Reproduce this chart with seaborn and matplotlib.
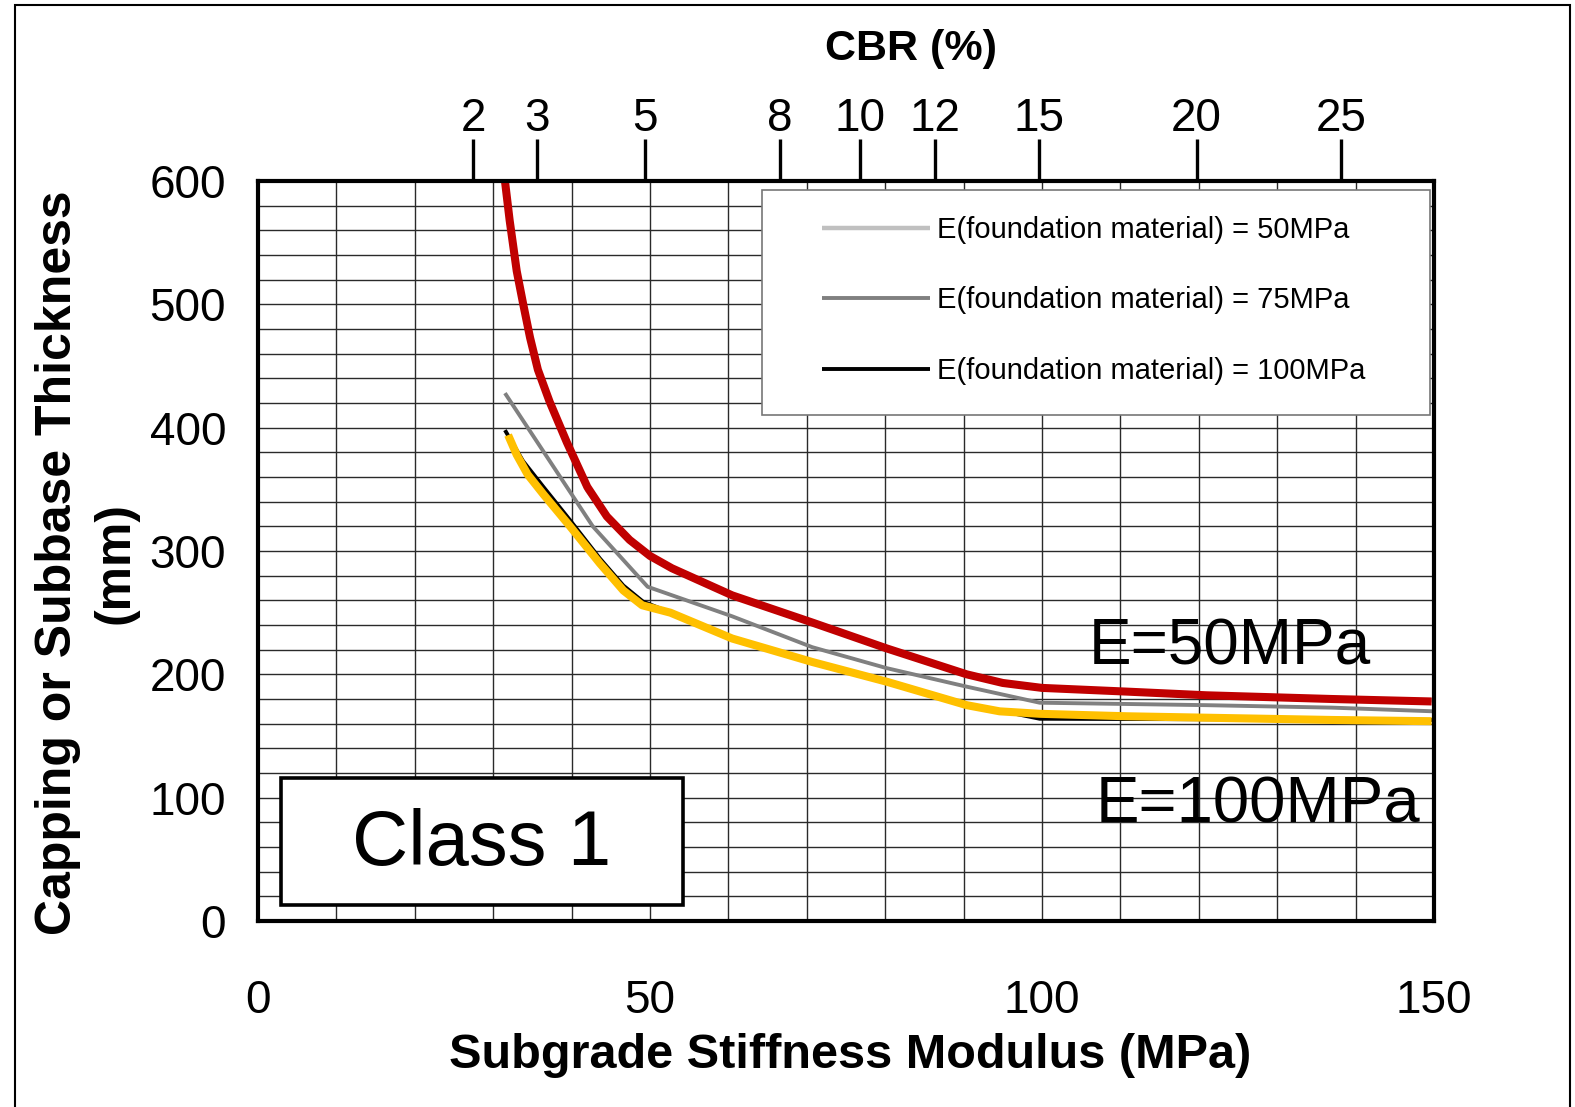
import numpy as np
import pandas as pd
import matplotlib
matplotlib.use("Agg")
import matplotlib.pyplot as plt
from matplotlib.patches import Rectangle
import seaborn as sns

# ---------------- data ----------------
E_50 = [31.5, 32.1, 33.0, 33.8, 34.7, 35.7, 37.2, 39.4, 42.0, 44.5, 47.4, 50.0, 52.8, 60.5, 70.7,
        80.2, 90.4, 95.0, 100.0, 110.8, 121.0, 137.0, 150.0]
T_50 = [600, 568, 527, 501, 473, 447, 421, 388, 349, 328, 309, 295, 285, 264, 242,
        221, 199, 193, 189, 186, 183, 180, 179]

E_75 = [31.5, 42.7, 49.7, 60.5, 70.7, 80.2, 90.4, 99.7, 121.0, 137.0, 150.0]
T_75 = [428, 320, 271, 247, 222, 205, 190, 177, 175, 173, 170]

E_100 = [31.5, 33.8, 36.4, 39.8, 43.6, 46.6, 49.1, 60.5, 70.7, 80.2, 90.4, 99.7, 150.0]
T_100 = [398, 373, 352, 325, 294, 272, 259, 230, 210, 195, 176, 164, 163]

E_red = [31.5, 32.1, 33.0, 33.8, 34.7, 35.7, 37.2, 39.4, 42.0, 44.5, 47.4, 50.0, 52.8, 60.5, 70.7,
         80.2, 90.4, 95.0, 100.0, 110.8, 121.0, 137.0, 149.7]
T_red = [600, 568, 527, 501, 473, 447, 421, 388, 352, 328, 309, 296, 286, 264, 242,
         221, 200, 193, 189, 186, 183, 180, 178]

E_yel = [31.9, 33.0, 34.4, 36.4, 39.8, 43.6, 46.6, 49.0, 52.6, 60.5, 70.7, 80.2, 90.4, 94.6, 99.7,
         110.8, 137.0, 149.7]
T_yel = [394, 378, 362, 346, 320, 290, 268, 256, 250, 229, 210, 194, 175, 170, 168,
         166, 163, 162]

series_labels = ["E(foundation material) = 50MPa",
                 "E(foundation material) = 75MPa",
                 "E(foundation material) = 100MPa"]

cbr_ticks = [2, 3, 5, 8, 10, 12, 15, 20, 25]
x_ticks = [0, 50, 100, 150]
y_ticks = [0, 100, 200, 300, 400, 500, 600]

# ---------------- style ----------------
sns.set_style("white")
plt.rcParams["font.family"] = ["Liberation Sans", "DejaVu Sans"]
plt.rcParams["text.color"] = "black"
plt.rcParams["axes.labelcolor"] = "black"

fig = plt.figure(figsize=(15.75, 11.07), dpi=100)
ax = fig.add_axes([258/1575, 1-921/1107, (1434-258)/1575, (921-181)/1107])

# grid
ax.set_xlim(0, 150)
ax.set_ylim(0, 600)
ax.set_xticks(x_ticks)
ax.set_yticks(y_ticks)
ax.set_xticks(np.arange(0, 151, 10), minor=True)
ax.set_yticks(np.arange(0, 601, 20), minor=True)
ax.grid(True, which="both", color="#2a2a2a", linewidth=1.0, zorder=0)
ax.set_axisbelow(True)
ax.tick_params(which="minor", length=0)
ax.tick_params(axis="x", which="major", direction="out", length=9, width=1, color="#777777",
               labelsize=33, pad=33, labelcolor="black")
ax.tick_params(axis="y", which="major", direction="out", length=9, width=1, color="#777777",
               labelsize=33, pad=14, labelcolor="black")
for s in ax.spines.values():
    s.set_linewidth(3)
    s.set_color("black")
    s.set_zorder(10)

line_kw = dict(sort=False, solid_joinstyle="round", solid_capstyle="butt")

# lines
sns.lineplot(x=E_50, y=T_50, ax=ax, color="#C0C0C0", linewidth=3.2,
             label=series_labels[0], zorder=4, **line_kw)
sns.lineplot(x=E_75, y=T_75, ax=ax, color="#808080", linewidth=2.8,
             label=series_labels[1], zorder=4, **line_kw)
sns.lineplot(x=E_100, y=T_100, ax=ax, color="black", linewidth=2.8,
             label=series_labels[2], zorder=4, **line_kw)
sns.lineplot(x=E_red, y=T_red, ax=ax, color="#C00000", linewidth=5.8, zorder=5, **line_kw)
sns.lineplot(x=E_yel, y=T_yel, ax=ax, color="#FFC000", linewidth=5.8, zorder=5, **line_kw)

# legend box and legend
ax.add_patch(Rectangle((0.4286, 0.684), 0.568, 0.304, transform=ax.transAxes,
                       facecolor="white", edgecolor="#777777", linewidth=1.2, zorder=3))
handles, labels = ax.get_legend_handles_labels()
leg = ax.legend(handles[:3], labels[:3], loc="upper left", bbox_to_anchor=(0.4796, 0.953),
                frameon=False, fontsize=21, borderpad=0, borderaxespad=0,
                labelspacing=1.46, handlelength=3.7, handletextpad=0.25)
leg.set_zorder(6)
for t in leg.get_texts():
    t.set_color("black")

# annotations
ax.text(105.9, 222, "E=50MPa", fontsize=46, ha="left", va="center", zorder=7)
ax.text(106.8, 94, "E=100MPa", fontsize=47, ha="left", va="center", zorder=7)

ax.add_patch(Rectangle((0.0196, 0.0216), 0.3418, 0.1716, transform=ax.transAxes,
                       facecolor="white", edgecolor="black", linewidth=2.6, zorder=6))
ax.text(0.1905, 0.1035, "Class 1", transform=ax.transAxes, fontsize=56,
        ha="center", va="center", zorder=7)

ax.set_xlabel("")
ax.set_ylabel("")

# top CBR axis
def e_to_cbr(e):
    e = np.clip(np.asarray(e, dtype=float), 1e-6, None)
    return (e / 17.6) ** (1 / 0.64)

def cbr_to_e(c):
    c = np.clip(np.asarray(c, dtype=float), 1e-6, None)
    return 17.6 * c ** 0.64

sec = ax.secondary_xaxis("top", functions=(e_to_cbr, cbr_to_e))
sec.set_xticks(cbr_ticks)
sec.set_xticklabels([str(c) for c in cbr_ticks])
sec.tick_params(direction="out", length=30, width=2.4, color="black", labelsize=33, pad=-1,
                labelcolor="black")
sec.spines["top"].set_visible(False)
sec.xaxis.set_minor_locator(matplotlib.ticker.NullLocator())

# titles / labels
fig.text(911/1575, 1-49/1107, "CBR (%)", fontsize=31, fontweight="bold", ha="center", va="center")
fig.text(850/1575, 1-1055/1107, "Subgrade Stiffness Modulus (MPa)", fontsize=35,
         fontweight="bold", ha="center", va="center")
fig.text(87/1575, 1-563/1107, "Capping or Subbase Thickness\n(mm)", fontsize=36,
         fontweight="bold", ha="center", va="center", rotation=90, multialignment="center",
         linespacing=1.31)

# outer border
fig.add_artist(Rectangle((15/1575, -0.01), (1570-15)/1575, 1.01 - 4.5/1107,
                         transform=fig.transFigure, fill=False, edgecolor="black", linewidth=1.5))

fig.savefig("out.png", dpi=100)
